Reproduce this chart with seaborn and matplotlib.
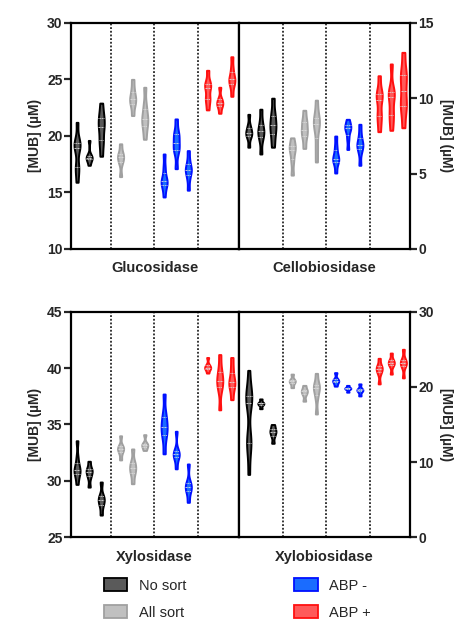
import numpy as np
import pandas as pd
import matplotlib
matplotlib.use('Agg')
import matplotlib.pyplot as plt
from matplotlib.patches import Patch
import seaborn as sns

sns.set_style('white')
plt.rcParams['font.family'] = ['Liberation Sans', 'DejaVu Sans']
plt.rcParams['font.weight'] = 'bold'

groups = ['No sort', 'All sort', 'ABP -', 'ABP +']
fills = ['#5a5a5a', '#c0c0c0', '#1a6cff', '#ff5a5a']
edges = ['#000000', '#a0a0a0', '#0010ff', '#ff1010']

# each group has 3 replicates, values in uM
glucosidase = {
    'No sort': [[15.9, 17.0, 17.3, 18.8, 19.1, 19.3, 19.6, 21.2],
                [17.4, 17.9, 18.0, 18.1, 18.3, 19.6],
                [18.2, 19.2, 19.8, 20.6, 21.0, 21.5, 22.0, 22.9]],
    'All sort': [[16.4, 17.6, 18.0, 18.2, 18.5, 19.3],
                 [21.8, 22.6, 23.0, 23.3, 23.6, 24.2, 25.0],
                 [19.7, 20.6, 21.2, 21.5, 22.0, 22.8, 24.3]],
    'ABP -': [[14.6, 15.5, 15.8, 16.0, 16.3, 17.2, 18.4],
              [17.1, 18.6, 18.9, 19.4, 20.0, 20.3, 21.5],
              [15.2, 16.2, 16.8, 17.0, 17.2, 17.8, 18.7]],
    'ABP +': [[22.3, 23.1, 23.4, 24.2, 24.5, 24.7, 25.8],
              [22.0, 22.6, 22.8, 23.0, 23.3, 24.3],
              [23.5, 24.4, 24.8, 25.0, 25.3, 26.0, 27.0]],
}
cellobiosidase = {
    'No sort': [[6.75, 7.4, 7.6, 7.7, 7.9, 8.2, 8.93],
                [6.3, 7.2, 7.6, 7.8, 8.0, 8.5, 9.27],
                [6.75, 7.4, 7.9, 8.2, 8.6, 9.1, 10.0]],
    'All sort': [[4.9, 5.8, 6.4, 6.7, 6.9, 7.37],
                 [6.67, 7.3, 7.7, 7.9, 8.3, 8.6, 9.2],
                 [5.77, 6.8, 7.9, 8.3, 8.5, 8.9, 9.87]],
    'ABP -': [[5.04, 5.7, 5.9, 6.0, 6.3, 6.8, 7.49],
              [6.6, 7.3, 7.8, 8.0, 8.1, 8.3, 8.6],
              [5.55, 6.4, 6.8, 6.9, 7.1, 7.6, 8.27]],
    'ABP +': [[7.78, 8.6, 9.0, 9.9, 10.2, 10.4, 11.49],
              [7.87, 8.7, 9.1, 10.1, 10.3, 10.5, 12.27],
              [8.04, 9.3, 9.6, 10.5, 11.4, 11.7, 13.04]],
}
xylosidase = {
    'No sort': [[29.69, 30.5, 30.8, 31.0, 31.2, 32.0, 33.56],
                [29.45, 30.3, 30.7, 30.9, 31.1, 31.74],
                [26.97, 27.8, 28.2, 28.4, 28.7, 29.9]],
    'All sort': [[31.86, 32.5, 32.8, 32.9, 33.1, 34.0],
                 [29.75, 30.6, 31.0, 31.3, 31.7, 32.83],
                 [32.7, 33.0, 33.2, 33.3, 34.1]],
    'ABP -': [[32.4, 33.8, 34.4, 34.8, 35.3, 36.0, 37.7],
              [31.07, 32.0, 32.3, 32.4, 32.7, 34.4],
              [28.1, 29.0, 29.4, 29.5, 29.9, 31.5]],
    'ABP +': [[39.56, 39.9, 40.0, 40.1, 40.3, 40.94],
              [36.3, 38.0, 38.6, 38.9, 39.3, 40.0, 41.2],
              [37.2, 38.1, 38.5, 38.8, 39.2, 40.0, 40.94]],
}
xylobiosidase = {
    'No sort': [[8.36, 11.8, 12.6, 13.4, 17.8, 18.4, 18.8, 19.2, 22.2],
                [17.1, 17.6, 17.8, 17.9, 18.4],
                [12.5, 13.4, 13.9, 14.1, 14.5, 15.0]],
    'All sort': [[19.9, 20.5, 20.8, 20.9, 21.7],
                 [18.1, 19.0, 19.4, 19.6, 20.2],
                 [16.4, 18.6, 19.7, 20.0, 20.3, 21.8]],
    'ABP -': [[20.1, 20.6, 20.8, 21.0, 21.9],
              [19.3, 19.7, 19.8, 19.9, 20.2],
              [18.8, 19.4, 19.6, 19.7, 20.4]],
    'ABP +': [[20.4, 21.8, 22.3, 22.5, 22.8, 23.8],
              [21.7, 22.8, 23.1, 23.3, 23.6, 24.5],
              [21.2, 22.7, 23.1, 23.3, 23.6, 25.0]],
}

group_start = [0, 3.6, 7.2, 10.8]
separators = [2.8, 6.4, 10.0]


def to_frame(data):
    rows = []
    for g, start in zip(groups, group_start):
        for r, vals in enumerate(data[g]):
            for v in vals:
                rows.append({'group': g, 'pos': start + r, 'value': v})
    return pd.DataFrame(rows)


def draw_panel(ax, data, title, ylim, yticks, side):
    df = to_frame(data)
    for g, fc, ec in zip(groups, fills, edges):
        sub = df[df.group == g]
        sns.violinplot(data=sub, x='pos', y='value', native_scale=True, ax=ax,
                       color=fc, linecolor=ec, linewidth=1.4, width=0.5,
                       cut=0, bw_adjust=0.55, density_norm='width', saturation=1,
                       inner='quart', inner_kws=dict(color='#dddddd', linewidth=0.6, linestyle='-'))
    for s in separators:
        ax.axvline(s, color='black', linestyle=(0, (1.2, 1.2)), linewidth=1.1, zorder=0)
    ax.set_xlim(-0.5 if side == 'left' else -0.85, 13.35)
    ax.set_ylim(*ylim)
    ax.set_xticks([])
    ax.set_yticks(yticks)
    ax.set_xlabel(title, fontsize=10.5, fontweight='bold', labelpad=9)
    ax.set_ylabel('')
    for sp in ax.spines.values():
        sp.set_linewidth(1.6)
        sp.set_color('black')
    if side == 'left':
        ax.tick_params(axis='y', left=True, right=False, direction='out', length=5, width=1.6,
                       labelsize=10, pad=1)
        ax.set_ylabel('[MUB] (µM)', fontsize=10, fontweight='bold', labelpad=4)
    else:
        ax.yaxis.tick_right()
        ax.yaxis.set_label_position('right')
        ax.tick_params(axis='y', left=False, right=True, direction='out', length=5, width=1.6,
                       labelsize=10, pad=1)
        ax.set_ylabel('[MUB] (µM)', fontsize=10, fontweight='bold', rotation=270, labelpad=14)
    for lab in ax.get_yticklabels():
        lab.set_fontweight('bold')


fig = plt.figure(figsize=(4.75, 6.22), dpi=100)
W, H = 475, 622


def box(x0, x1, ytop, ybot):
    return [x0 / W, 1 - ybot / H, (x1 - x0) / W, (ybot - ytop) / H]


ax1 = fig.add_axes(box(71, 238.5, 22.8, 249))
ax2 = fig.add_axes(box(238.5, 410, 22.8, 249))
ax3 = fig.add_axes(box(71, 238.5, 311.7, 537.3))
ax4 = fig.add_axes(box(238.5, 410, 311.7, 537.3))

draw_panel(ax1, glucosidase, 'Glucosidase', (10, 30), [10, 15, 20, 25, 30], 'left')
draw_panel(ax2, cellobiosidase, 'Cellobiosidase', (0, 15), [0, 5, 10, 15], 'right')
draw_panel(ax3, xylosidase, 'Xylosidase', (25, 45), [25, 30, 35, 40, 45], 'left')
draw_panel(ax4, xylobiosidase, 'Xylobiosidase', (0, 30), [0, 10, 20, 30], 'right')

handles = [Patch(facecolor=fc, edgecolor=ec, linewidth=1.3, label=g)
           for g, fc, ec in zip(groups, fills, edges)]
fig.legend(handles=handles, loc='center', bbox_to_anchor=(0.5, 1 - 599 / H), ncol=2,
           frameon=False, handlelength=1.6, handleheight=1.0,
           columnspacing=7.4, labelspacing=0.85, prop={'weight': 'normal', 'size': 10.5})

fig.savefig('out.png', dpi=100)
